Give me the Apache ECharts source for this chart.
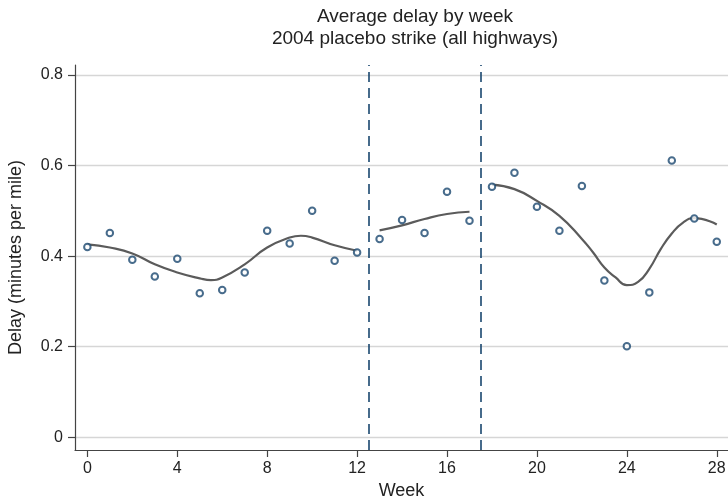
<!DOCTYPE html>
<html>
<head>
<meta charset="utf-8">
<script src="https://cdn.jsdelivr.net/npm/echarts@6/dist/echarts.min.js"></script>
<style>
  html, body { margin: 0; padding: 0; background: #fff; }
  #chart { width: 728px; height: 497px; }
</style>
</head>
<body>
<div id="chart"></div>
<script>
// Weekly average delay (minutes per mile), weeks 0..28
const weeks = [0, 1, 2, 3, 4, 5, 6, 7, 8, 9, 10, 11, 12, 13, 14, 15, 16, 17, 18, 19, 20, 21, 22, 23, 24, 25, 26, 27, 28];
const delay = [0.420, 0.451, 0.392, 0.355, 0.394, 0.318, 0.325, 0.364, 0.456, 0.428, 0.500, 0.390, 0.408,
               0.438, 0.480, 0.451, 0.542, 0.478,
               0.553, 0.584, 0.509, 0.456, 0.555, 0.346, 0.201, 0.320, 0.611, 0.483, 0.432];

// Smoothed fit, one curve per period (before / placebo strike / after)
const fitWeeksPre = [0, 1, 2, 3, 4, 5, 5.5, 6, 7, 8, 9, 9.5, 10, 11, 12];
const fitPre = [0.426, 0.419, 0.406, 0.382, 0.364, 0.351, 0.347, 0.353, 0.382, 0.419, 0.441, 0.445, 0.441, 0.424, 0.412];
const fitWeeksStrike = [13, 14, 15, 16, 17];
const fitStrike = [0.457, 0.468, 0.482, 0.493, 0.498];
const fitWeeksPost = [18, 19, 20, 21, 22, 22.5, 23, 23.5, 24, 24.5, 25, 25.5, 26, 26.5, 27, 28];
const fitPost = [0.558, 0.548, 0.522, 0.489, 0.438, 0.408, 0.375, 0.353, 0.336, 0.343, 0.372, 0.415, 0.450, 0.474, 0.484, 0.470];

// Period boundaries
const strikeBounds = [12.5, 17.5];

// Axis ticks
const xTicks = [0, 4, 8, 12, 16, 20, 24, 28];
const yTicks = [0, 0.2, 0.4, 0.6, 0.8];

const FONT = '"Liberation Sans", Arial, Helvetica, sans-serif';
const NAVY = '#1a476f';
const FIT = '#5b5b5b';
const TEXT = '#222';
const AXIS = '#444';

const pairs = (xs, ys) => xs.map((x, i) => [x, ys[i]]);

function fitSeries(xs, ys) {
  return {
    type: 'line',
    data: pairs(xs, ys),
    smooth: 0.5,
    showSymbol: false,
    symbol: 'none',
    lineStyle: { color: FIT, width: 2.2 },
    z: 3,
    silent: true
  };
}

const chart = echarts.init(document.getElementById('chart'), null, { renderer: 'canvas' });

chart.setOption({
  backgroundColor: '#fff',
  animation: false,
  title: {
    text: 'Average delay by week\n2004 placebo strike (all highways)',
    left: 410,
    top: 1,
    textAlign: 'center',
    textStyle: {
      fontFamily: FONT,
      fontSize: 19,
      fontWeight: 'normal',
      color: TEXT,
      lineHeight: 22
    }
  },
  grid: { left: 75, right: 0, top: 65, bottom: 47, containLabel: false, outerBoundsMode: 'none' },
  xAxis: {
    type: 'value',
    min: -0.55,
    max: 28.5,
    name: 'Week',
    nameLocation: 'middle',
    nameGap: 28,
    nameTextStyle: { fontFamily: FONT, fontSize: 18, color: TEXT },
    axisLine: { show: true, onZero: false, lineStyle: { color: AXIS, width: 1.2 } },
    axisTick: { show: true, length: 7, customValues: xTicks, lineStyle: { color: AXIS, width: 1.2 } },
    axisLabel: { customValues: xTicks, margin: 11, fontFamily: FONT, fontSize: 16, color: TEXT },
    splitLine: { show: false }
  },
  yAxis: {
    type: 'value',
    min: -0.028,
    max: 0.822,
    name: 'Delay (minutes per mile)',
    nameLocation: 'middle',
    nameRotate: 90,
    nameGap: 50,
    nameTextStyle: { fontFamily: FONT, fontSize: 18, color: TEXT },
    axisLine: { show: true, onZero: false, lineStyle: { color: AXIS, width: 1.2 } },
    axisTick: { show: true, length: 7, customValues: yTicks, lineStyle: { color: AXIS, width: 1.2 } },
    axisLabel: { customValues: yTicks, margin: 12, fontFamily: FONT, fontSize: 16, color: TEXT },
    splitLine: { show: true, lineStyle: { color: '#d6d6d6', width: 1.3 } }
  },
  series: [
    {
      type: 'scatter',
      data: pairs(weeks, delay),
      symbol: 'circle',
      symbolSize: 6.5,
      itemStyle: { color: '#fff', borderColor: NAVY, borderWidth: 2 },
      z: 4,
      silent: true,
      markLine: {
        silent: true,
        symbol: ['none', 'none'],
        label: { show: false },
        lineStyle: { color: NAVY, width: 1.6, type: [10, 6] },
        data: strikeBounds.map(v => ({ xAxis: v }))
      }
    },
    fitSeries(fitWeeksPre, fitPre),
    fitSeries(fitWeeksStrike, fitStrike),
    fitSeries(fitWeeksPost, fitPost)
  ]
});
</script>
</body>
</html>
